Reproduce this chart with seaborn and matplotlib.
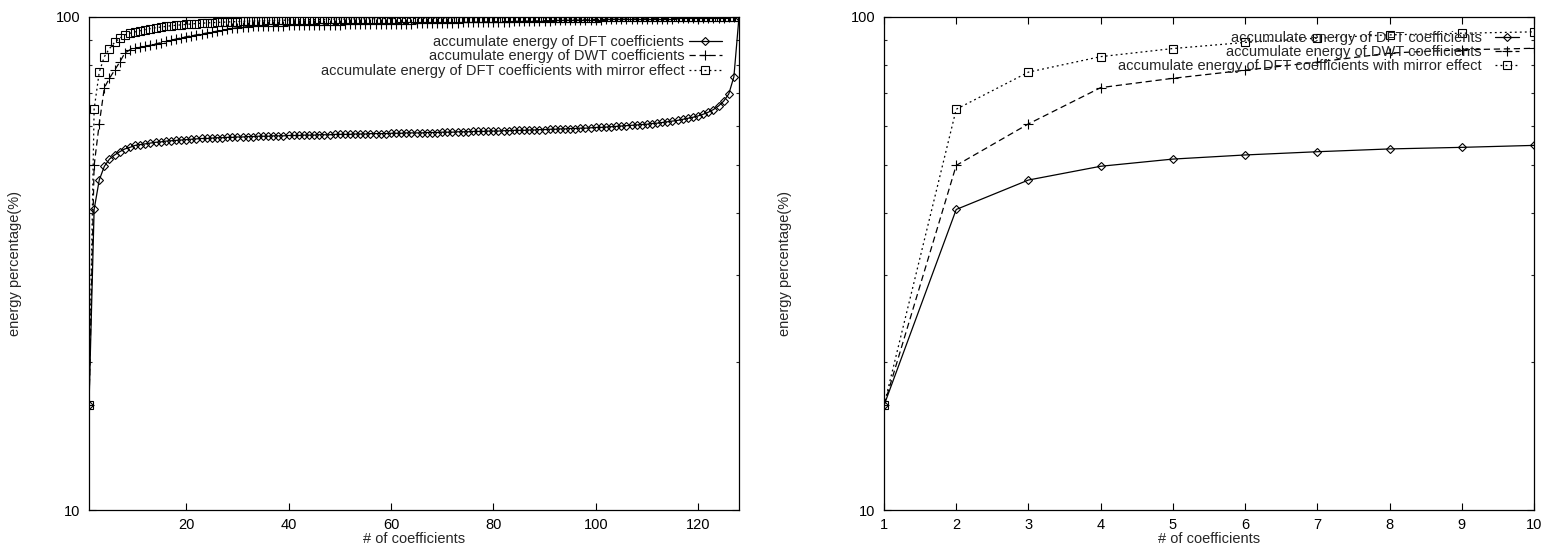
import matplotlib
matplotlib.use("Agg")
import matplotlib.pyplot as plt
import seaborn as sns
from matplotlib.ticker import FixedLocator, NullFormatter, FixedFormatter

# ---------------- data ----------------
coeffs = list(range(1, 129))

dft_energy = [
    16.3, 40.7, 46.7, 49.8, 51.5, 52.5, 53.3, 54.0, 54.4, 54.9,
    55.1, 55.3, 55.5, 55.7, 55.8, 56.0, 56.1, 56.2, 56.3, 56.4,
    56.5, 56.6, 56.7, 56.7, 56.8, 56.9, 56.9, 57.0, 57.0, 57.1,
    57.1, 57.2, 57.2, 57.3, 57.3, 57.3, 57.4, 57.4, 57.4, 57.5,
    57.5, 57.5, 57.6, 57.6, 57.6, 57.7, 57.7, 57.7, 57.8, 57.8,
    57.8, 57.8, 57.9, 57.9, 57.9, 58.0, 58.0, 58.0, 58.0, 58.1,
    58.1, 58.1, 58.2, 58.2, 58.2, 58.2, 58.3, 58.3, 58.3, 58.4,
    58.4, 58.4, 58.5, 58.5, 58.5, 58.6, 58.6, 58.6, 58.7, 58.7,
    58.7, 58.8, 58.8, 58.9, 58.9, 58.9, 59.0, 59.0, 59.1, 59.1,
    59.2, 59.2, 59.3, 59.3, 59.4, 59.4, 59.5, 59.5, 59.6, 59.7,
    59.7, 59.8, 59.9, 60.0, 60.1, 60.2, 60.3, 60.4, 60.5, 60.6,
    60.8, 60.9, 61.1, 61.3, 61.5, 61.7, 62.0, 62.3, 62.6, 63.0,
    63.5, 64.1, 64.9, 66.0, 67.5, 69.8, 75.6, 100.0,
]

dwt_energy = [
    16.3, 50.0, 60.7, 71.9, 75.1, 78.0, 81.0, 84.5, 85.8, 86.4,
    86.8, 87.2, 87.7, 88.2, 88.7, 89.2, 89.7, 90.2, 90.7, 91.2,
    91.6, 92.0, 92.4, 92.8, 93.2, 93.6, 94.0, 94.4, 94.8, 95.1,
    95.4, 95.6, 95.7, 95.8, 95.9, 96.0, 96.0, 96.1, 96.1, 96.2,
    96.2, 96.3, 96.3, 96.3, 96.4, 96.4, 96.4, 96.5, 96.5, 96.5,
    96.6, 96.6, 96.6, 96.7, 96.7, 96.7, 96.8, 96.8, 96.8, 96.9,
    96.9, 96.9, 97.0, 97.0, 97.1, 97.1, 97.2, 97.2, 97.3, 97.3,
    97.3, 97.4, 97.4, 97.5, 97.5, 97.6, 97.6, 97.7, 97.7, 97.8,
    97.8, 97.9, 97.9, 98.0, 98.0, 98.1, 98.1, 98.2, 98.2, 98.3,
    98.3, 98.4, 98.4, 98.5, 98.5, 98.6, 98.6, 98.7, 98.7, 98.8,
    98.8, 98.9, 98.9, 99.0, 99.0, 99.0, 99.1, 99.1, 99.1, 99.2,
    99.2, 99.2, 99.3, 99.3, 99.3, 99.4, 99.4, 99.4, 99.5, 99.5,
    99.5, 99.6, 99.6, 99.7, 99.7, 99.8, 99.9, 100.0,
]

mirror_energy = [
    16.3, 65.0, 77.3, 83.1, 86.3, 88.8, 90.6, 92.0, 92.7, 93.3,
    93.8, 94.3, 94.7, 95.1, 95.4, 95.7, 96.0, 96.2, 96.4, 96.6,
    96.8, 97.0, 97.1, 97.3, 97.4, 97.5, 97.6, 97.7, 97.8, 97.9,
    98.0, 98.1, 98.2, 98.2, 98.3, 98.4, 98.4, 98.5, 98.5, 98.6,
    98.6, 98.7, 98.7, 98.8, 98.8, 98.9, 98.9, 98.9, 99.0, 99.0,
    99.0, 99.1, 99.1, 99.1, 99.2, 99.2, 99.2, 99.3, 99.3, 99.3,
    99.3, 99.4, 99.4, 99.4, 99.4, 99.5, 99.5, 99.5, 99.5, 99.5,
    99.6, 99.6, 99.6, 99.6, 99.6, 99.6, 99.6, 99.6, 99.6, 99.6,
    99.6, 99.6, 99.7, 99.7, 99.7, 99.7, 99.7, 99.7, 99.7, 99.7,
    99.7, 99.7, 99.7, 99.7, 99.7, 99.7, 99.7, 99.7, 99.7, 99.7,
    99.8, 99.8, 99.8, 99.8, 99.8, 99.8, 99.8, 99.8, 99.8, 99.8,
    99.8, 99.8, 99.8, 99.9, 99.9, 99.9, 99.9, 99.9, 99.9, 99.9,
    99.9, 99.9, 99.9, 99.9, 99.9, 99.9, 99.9, 100.0,
]

series_labels = [
    "accumulate energy of DFT coefficients",
    "accumulate energy of DWT coefficients",
    "accumulate energy of DFT coefficients with mirror effect",
]
left_xticks = [20, 40, 60, 80, 100, 120]
right_xticks = list(range(1, 11))
y_major = [10, 100]
y_minor = [20, 30, 40, 50, 60, 70, 80, 90]
x_label = "# of coefficients"
y_label = "energy percentage(%)"

# ---------------- style ----------------
sns.set_style("ticks")
plt.rcParams["font.family"] = ["Liberation Sans", "DejaVu Sans"]
plt.rcParams["font.size"] = 10.5

fig = plt.figure(figsize=(15.44, 5.46), dpi=100)
ax1 = fig.add_axes([89 / 1544, 1 - 510 / 546, 650 / 1544, 493 / 546])
ax2 = fig.add_axes([884 / 1544, 1 - 510 / 546, 650 / 1544, 493 / 546])

styles = [
    dict(linestyle="-", marker="D", markersize=4.2),
    dict(linestyle=(0, (5, 3)), marker="+", markersize=7),
    dict(linestyle=(0, (1.5, 2.5)), marker="s", markersize=6),
]
all_series = [dft_energy, dwt_energy, mirror_energy]


def draw(ax, n, xticks, xlim, ylabel_x, leg_anchor, handlelength, handletextpad, labelspacing):
    for ys, lab, st in zip(all_series, series_labels, styles):
        sns.lineplot(
            x=coeffs[:n], y=ys[:n], ax=ax, color="black", linewidth=0.9,
            markerfacecolor="none", markeredgecolor="black", markeredgewidth=0.8,
            label=lab, **st,
        )
    ax.set_yscale("log")
    ax.set_ylim(10, 100)
    ax.set_xlim(*xlim)
    ax.yaxis.set_major_locator(FixedLocator(y_major))
    ax.yaxis.set_major_formatter(FixedFormatter([str(v) for v in y_major]))
    ax.yaxis.set_minor_locator(FixedLocator(y_minor))
    ax.yaxis.set_minor_formatter(NullFormatter())
    ax.xaxis.set_major_locator(FixedLocator(xticks))
    ax.xaxis.set_major_formatter(FixedFormatter([str(v) for v in xticks]))
    ax.tick_params(axis="both", which="major", direction="in", length=5, width=0.8,
                   top=True, right=True, labelsize=10.5, pad=6, colors="black")
    ax.tick_params(axis="both", which="minor", direction="in", length=2.5, width=0.8,
                   top=True, right=True)
    for sp in ax.spines.values():
        sp.set_linewidth(0.9)
        sp.set_color("black")
    ax.set_xlabel(x_label, fontsize=10.5)
    ax.set_ylabel(y_label, fontsize=10.5)
    ax.xaxis.set_label_coords(0.5, -0.045)
    ax.yaxis.set_label_coords(ylabel_x, 0.5)
    handles, labels = ax.get_legend_handles_labels()
    ax.legend(handles, labels, loc="upper right", bbox_to_anchor=leg_anchor,
              frameon=False, markerfirst=False, borderpad=0, borderaxespad=0,
              handlelength=handlelength, handletextpad=handletextpad,
              labelspacing=labelspacing, fontsize=10.5, numpoints=1)


draw(ax1, 128, left_xticks, (1, 128), -0.103, (0.974, 0.964), 2.3, 0.3, 0.05)
draw(ax2, 10, right_xticks, (1, 10), -0.1415, (0.977, 0.971), 1.65, 0.9, -0.02)

fig.savefig("out.png", dpi=100)
